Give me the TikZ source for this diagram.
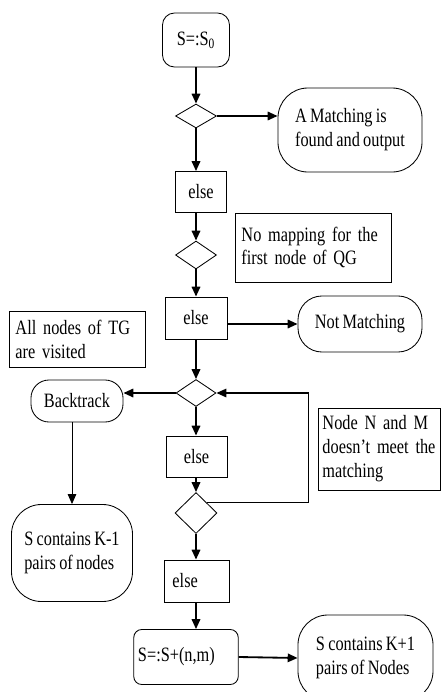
\documentclass[tikz,border=0pt]{standalone}
\usepackage{fontspec}
\setmainfont{Liberation Serif}[FakeStretch=0.8, WordSpace=0.8]
\usetikzlibrary{shapes.geometric,arrows.meta}

\begin{document}
\begin{tikzpicture}[x=0.025cm, y=-0.025cm,
  every node/.style={font=\fontsize{14.5}{17}\selectfont, inner sep=0pt},
  box/.style={draw, line width=0.6pt, align=center},
  textbox/.style={draw, line width=0.6pt, align=left, text width=#1, inner xsep=4pt},
  endbox/.style={draw, line width=0.6pt, rounded corners=#1, align=left},
  cond/.style={draw, line width=0.6pt, diamond, inner sep=0pt},
  flow/.style={line width=1.3pt, -{Triangle[length=7pt,width=6pt]}},
  thinflow/.style={line width=0.6pt, -{Triangle[length=7pt,width=6pt]}}]
\useasboundingbox (0,0) rectangle (442,692);

\node[endbox=0.3cm, minimum width=1.675cm, minimum height=1.35cm] (start) at (196,40) {S=:S\textsubscript{0}};
\node[cond, minimum width=1.025cm, minimum height=0.6cm] (d1) at (196,116) {};
\node[endbox=0.75cm, minimum width=3.6cm, minimum height=2.1cm] (found) at (350,130) {A Matching is\\found and output};
\node[box, minimum width=1.275cm, minimum height=1.025cm] (else1) at (201,192) {else};
\node[textbox=3.6cm, minimum height=1.725cm] (nomap) at (313.5,247.5) {No mapping for the\\first node of QG};
\node[cond, minimum width=1.025cm, minimum height=0.7cm] (d2) at (196,255) {};
\node[box, minimum width=1.55cm, minimum height=1.05cm] (else2) at (196,318) {else};
\node[endbox=0.6cm, minimum width=3.1cm, minimum height=1.4cm] (notm) at (360,324) {Not Matching};
\node[textbox=3.1cm, minimum height=1.4cm] (allvis) at (77.5,339) {All nodes of TG\\are visited};
\node[cond, minimum width=1cm, minimum height=0.675cm] (d3) at (196,393) {};
\node[endbox=0.45cm, minimum width=2.3cm, minimum height=1.05cm] (back) at (77,401) {Backtrack};
\node[textbox=2.85cm, inner xsep=3pt, minimum height=2.05cm] (nomeet) at (379.5,449) {Node N and M\\doesn't meet the\\matching};
\node[box, minimum width=1.525cm, minimum height=1.025cm] (else3) at (196.5,456.5) {else};
\node[textbox=1.2cm, inner xsep=6pt, minimum height=1.05cm] (else4) at (196.5,581) {else};
\node[cond, minimum width=1.05cm, minimum height=1.025cm] (d4) at (196,513) {};
\node[endbox=0.75cm, minimum width=3.025cm, minimum height=2.425cm] (kmin) at (72,553) {S contains K-1\\pairs of nodes};
\node[endbox=0.2cm, text width=2.4cm, inner xsep=3pt, minimum height=1.375cm] (snew) at (186,657) {S=:S+(n,m)};
\node[endbox=0.75cm, minimum width=3.375cm, minimum height=2.15cm] (kplus) at (365.5,658) {S contains K+1\\pairs of Nodes};

\draw[flow] (start.south -| d1.north) -- (d1.north);
\draw[flow] (d1.east) -- (d1.east -| found.west);
\draw[flow] (d1.south) -- (d1.south |- else1.north);
\draw[flow] (d1.south |- else1.south) -- (d2.north);
\draw[flow] (d2.south) -- (else2.north);
\draw[flow] (else2.east |- notm.west) -- (notm.west);
\draw[flow] (else2.south) -- (d3.north);
\draw[flow] (d3.west) -- (d3.west -| back.east);
\draw[thinflow] (kmin.north |- back.south) -- (kmin.north);
\draw[flow] (d3.south) -- (d3.south |- else3.north);
\draw[flow] (d4.north |- else3.south) -- (d4.north);
\draw[line width=1pt, -{Triangle[length=7pt,width=6pt]}] (d4.north east) -- ++(101.5,0) |- (d3.east);
\draw[flow] (d4.south) -- (d4.south |- else4.north);
\draw[flow] (d4.south |- else4.south) -- (d4.south |- snew.north);
\draw[flow] (snew.east) -- (kplus.west);
\end{tikzpicture}
\end{document}
